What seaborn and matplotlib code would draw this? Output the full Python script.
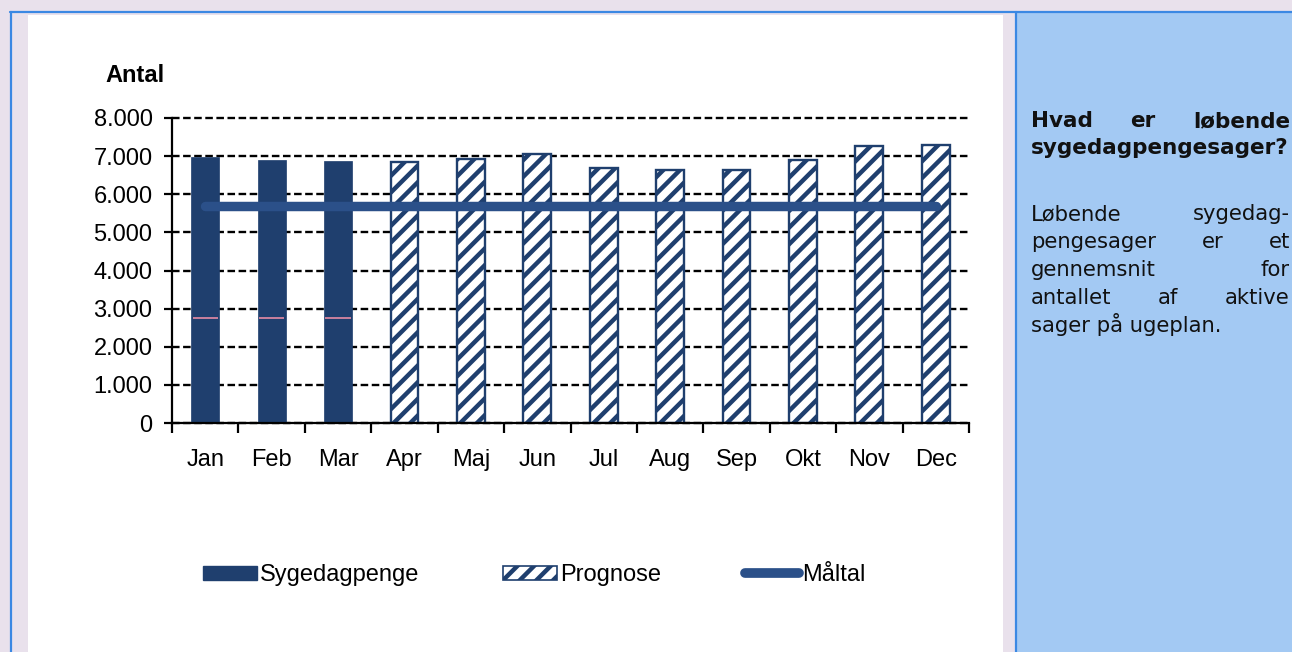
import numpy as np
import pandas as pd
import matplotlib
matplotlib.use('Agg')
import matplotlib.pyplot as plt
import seaborn as sns
from matplotlib.patches import Rectangle, Patch
from matplotlib.lines import Line2D
from matplotlib.ticker import FixedLocator

# data
months = ['Jan', 'Feb', 'Mar', 'Apr', 'Maj', 'Jun', 'Jul', 'Aug', 'Sep', 'Okt', 'Nov', 'Dec']
sygedagpenge = [6985, 6900, 6860]
prognose = [6850, 6920, 7060, 6700, 6640, 6640, 6900, 7270, 7290]
maaltal = [5700, 5700, 5700, 5700, 5700, 5700, 5700, 5700, 5700, 5700, 5700, 5700]
split = [2750, 2750, 2750]
yticks = [0, 1000, 2000, 3000, 4000, 5000, 6000, 7000, 8000]
ytick_labels = ['0', '1.000', '2.000', '3.000', '4.000', '5.000', '6.000', '7.000', '8.000']

title_lines = ['Hvad er løbende', 'sygedagpengesager?']
body_lines = ['Løbende sygedag-', 'pengesager er et', 'gennemsnit for', 'antallet af aktive', 'sager på ugeplan.']

NAVY = '#1F3F6E'
LINE = '#2B5089'
LAVENDER = '#E9E1EC'
BLUE_PANEL = '#A3C9F3'
BLUE_RULE = '#3B88E3'

W, H = 1292, 652

sns.set_style('white')
plt.rcParams['font.family'] = ['Liberation Sans', 'DejaVu Sans']
plt.rcParams['hatch.linewidth'] = 3.2
plt.rcParams['hatch.color'] = NAVY
plt.rcParams['text.color'] = 'black'
plt.rcParams['xtick.color'] = 'black'
plt.rcParams['ytick.color'] = 'black'

fig = plt.figure(figsize=(W / 100, H / 100), dpi=100, facecolor=LAVENDER)


def fx(x):
    return x / W


def fy(y):
    return 1 - y / H


# page background pieces
fig.add_artist(Rectangle((fx(28), 0), fx(1003) - fx(28), fy(15), transform=fig.transFigure,
                         facecolor='white', edgecolor='none', zorder=0))
fig.add_artist(Rectangle((fx(1017), 0), 1 - fx(1017), fy(13), transform=fig.transFigure,
                         facecolor=BLUE_PANEL, edgecolor='none', zorder=0))
fig.add_artist(Line2D([fx(10), 1], [fy(12), fy(12)], transform=fig.transFigure, color=BLUE_RULE, lw=1.6))
fig.add_artist(Line2D([fx(11), fx(11)], [0, fy(12)], transform=fig.transFigure, color=BLUE_RULE, lw=1.6))
fig.add_artist(Line2D([fx(1016), fx(1016)], [0, fy(12)], transform=fig.transFigure, color=BLUE_RULE, lw=1.6))

ax = fig.add_axes([fx(172), fy(423), fx(969) - fx(172), fy(118) - fy(423)])
ax.set_facecolor('none')

df = pd.DataFrame({
    'Måned': months,
    'Antal': sygedagpenge + prognose,
    'Serie': ['Sygedagpenge'] * len(sygedagpenge) + ['Prognose'] * len(prognose),
})

sns.barplot(data=df, x='Måned', y='Antal', hue='Serie', dodge=False, width=0.42,
            palette={'Sygedagpenge': NAVY, 'Prognose': 'white'}, saturation=1,
            legend=False, ax=ax, zorder=3)

for p in ax.patches:
    if p.get_facecolor()[0] > 0.9:
        p.set_hatch('//')
        p.set_edgecolor(NAVY)
        p.set_linewidth(1.7)
    else:
        p.set_edgecolor(NAVY)
        p.set_linewidth(0.5)

xs = np.arange(len(months))
ax.hlines(split, xs[:3] - 0.19, xs[:3] + 0.19, color='#C9809E', lw=1.4, zorder=4)
ax.plot(xs, maaltal, color=LINE, lw=6.8, solid_capstyle='round', zorder=5)

ax.set_xlim(-0.5, len(months) - 0.5)
ax.set_ylim(0, 8000)
ax.set_yticks(yticks)
ax.set_yticklabels(ytick_labels)
ax.set_xlabel('')
ax.set_ylabel('')

ax.yaxis.grid(True, linestyle=(0, (3.2, 1.5)), color='black', lw=1.7)
ax.set_axisbelow(True)
for g in ax.get_ygridlines():
    g.set_clip_on(False)

for side in ['top', 'right']:
    ax.spines[side].set_visible(False)
for side in ['left', 'bottom']:
    ax.spines[side].set_color('black')
    ax.spines[side].set_linewidth(1.6)
    ax.spines[side].set_zorder(6)

FS = 17
ax.tick_params(axis='y', which='major', length=6, width=1.6, color='black', direction='out',
               labelsize=FS, pad=8, left=True)
ax.tick_params(axis='x', which='major', length=0, labelsize=FS, pad=19, bottom=True)
ax.xaxis.set_minor_locator(FixedLocator(np.arange(len(months) + 1) - 0.5))
ax.tick_params(axis='x', which='minor', length=7, width=1.6, color='black', direction='out', bottom=True)

fig.text(fx(105), fy(75), 'Antal', fontsize=FS, fontweight='bold', va='center', ha='left')

handles = [
    Patch(facecolor=NAVY, edgecolor=NAVY),
    Patch(facecolor='white', edgecolor=NAVY, hatch='//', lw=1.2),
    Line2D([], [], color=LINE, lw=7, solid_capstyle='round'),
]
fig.legend(handles, ['Sygedagpenge', 'Prognose', 'Måltal'], ncol=3, loc='center',
           bbox_to_anchor=(fx(534), fy(575)), frameon=False, fontsize=FS,
           handlelength=2.3, handleheight=0.55, handletextpad=0.12, columnspacing=3.55)

# justified text block on the blue panel
renderer = fig.canvas.get_renderer()


def justified(lines, x0, x1, y0, step, **kw):
    for i, line in enumerate(lines):
        y = y0 + i * step
        words = line.split()
        if len(words) == 1 or i == len(lines) - 1:
            fig.text(fx(x0), fy(y), line, va='baseline', ha='left', **kw)
            continue
        texts = [fig.text(fx(x0), fy(y), w, va='baseline', ha='left', **kw) for w in words]
        widths = [t.get_window_extent(renderer).width for t in texts]
        gap = (x1 - x0 - sum(widths)) / (len(words) - 1)
        x = x0
        for t, w in zip(texts, widths):
            t.set_x(fx(x))
            x += w + gap


justified(title_lines, 1031, 1290, 127, 27, fontsize=15.5, fontweight='bold',
          family='DejaVu Sans', color='#111111')
justified(body_lines, 1031, 1290, 220, 28, fontsize=15.2, family='DejaVu Sans', color='#111111')

fig.savefig('out.png', dpi=100, facecolor=LAVENDER)
